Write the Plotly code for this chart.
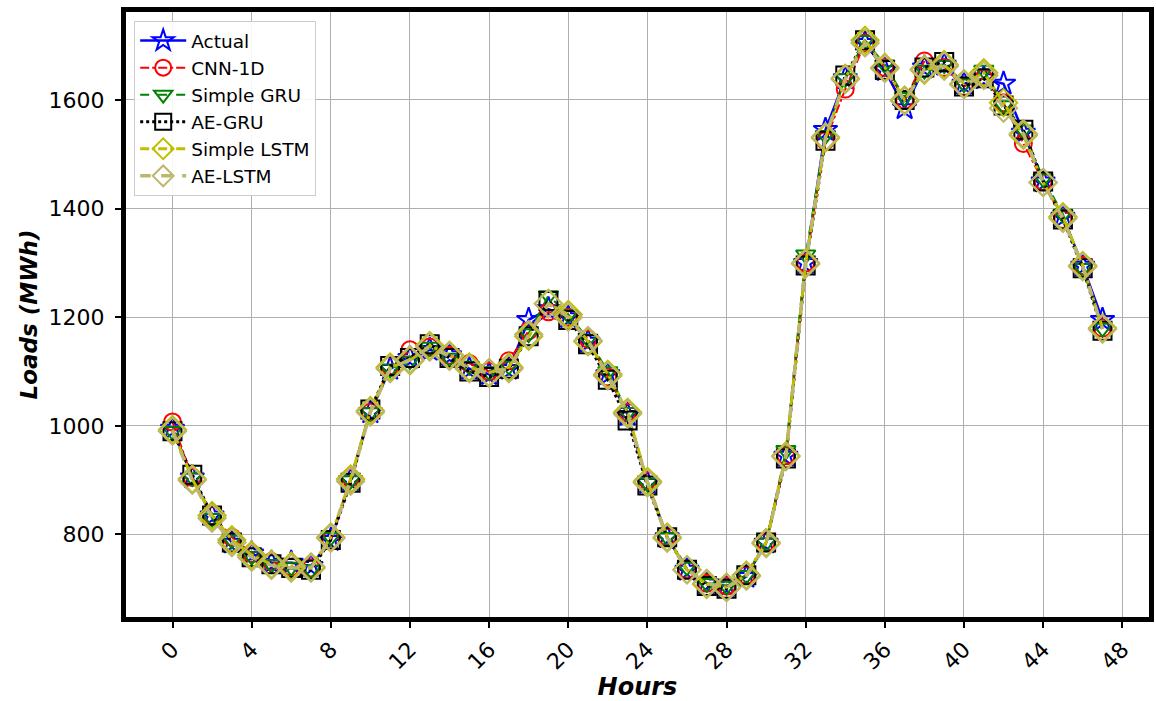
import plotly.graph_objects as go

hours = list(range(48))

actual = [995, 905, 835, 785, 765, 748, 748, 742, 790, 900, 1025, 1105, 1125, 1140, 1130, 1105,
          1095, 1105, 1195, 1215, 1200, 1155, 1095, 1020, 895, 795, 735, 710, 705, 722, 785, 945,
          1300, 1545, 1640, 1705, 1655, 1585, 1660, 1665, 1630, 1640, 1630, 1540, 1450, 1385, 1295, 1195]
cnn_1d = [1007, 905, 835, 795, 765, 750, 740, 738, 790, 905, 1025, 1110, 1140, 1145, 1130, 1115,
          1100, 1120, 1175, 1210, 1200, 1160, 1090, 1025, 900, 795, 735, 710, 705, 725, 785, 945,
          1300, 1525, 1620, 1705, 1660, 1600, 1672, 1660, 1625, 1640, 1595, 1520, 1450, 1380, 1295, 1180]
simple_gru = [990, 905, 830, 790, 760, 745, 740, 735, 795, 900, 1025, 1105, 1120, 1145, 1125, 1110,
              1100, 1110, 1170, 1240, 1205, 1160, 1100, 1025, 895, 795, 740, 710, 705, 725, 785, 955,
              1315, 1535, 1640, 1710, 1665, 1605, 1655, 1665, 1630, 1655, 1590, 1545, 1455, 1390, 1290, 1180]
ae_gru = [990, 910, 835, 785, 758, 745, 738, 735, 790, 895, 1030, 1110, 1125, 1150, 1125, 1100,
          1090, 1105, 1165, 1230, 1195, 1150, 1085, 1010, 890, 795, 735, 705, 700, 725, 785, 940,
          1295, 1525, 1645, 1710, 1655, 1600, 1660, 1670, 1625, 1640, 1590, 1545, 1450, 1380, 1290, 1175]
simple_lstm = [993, 902, 835, 790, 762, 745, 742, 740, 795, 902, 1028, 1108, 1120, 1148, 1130, 1108,
               1098, 1108, 1165, 1225, 1205, 1155, 1095, 1025, 898, 795, 735, 708, 703, 725, 785, 945,
               1300, 1530, 1640, 1710, 1660, 1600, 1655, 1665, 1630, 1650, 1595, 1535, 1448, 1385, 1295, 1180]
ae_lstm = [990, 900, 830, 785, 758, 743, 738, 738, 793, 898, 1025, 1105, 1122, 1145, 1128, 1105,
           1097, 1105, 1168, 1225, 1200, 1157, 1092, 1022, 895, 793, 735, 710, 702, 723, 783, 943,
           1298, 1532, 1638, 1705, 1658, 1598, 1657, 1662, 1628, 1645, 1585, 1538, 1448, 1382, 1293, 1178]

x_ticks = list(range(0, 49, 4))
y_ticks = [800, 1000, 1200, 1400, 1600]

series = [
    ("Actual", actual, "#0000ff", "solid", 2.5, "star-open", 18),
    ("CNN-1D", cnn_1d, "#ff0000", "dashdot", 2, "circle-open", 17),
    ("Simple GRU", simple_gru, "#008000", "dash", 2, "triangle-down-open", 17),
    ("AE-GRU", ae_gru, "#000000", "dot", 3, "square-open", 18),
    ("Simple LSTM", simple_lstm, "#bfbf00", "dashdot", 3, "diamond-open", 21),
    ("AE-LSTM", ae_lstm, "#bdb76b", "dash", 3.5, "diamond-open", 21),
]

fig = go.Figure()
for name, vals, color, dash, lw, sym, ms in series:
    fig.add_trace(go.Scatter(
        x=hours, y=vals, name=name, mode="lines+markers",
        line=dict(color=color, dash=dash, width=lw),
        marker=dict(symbol=sym, size=ms, color=color, line=dict(color=color, width=2)),
    ))

font_family = "DejaVu Sans"
fig.update_layout(
    width=1156, height=701,
    margin=dict(l=126, r=2, t=12, b=84),
    paper_bgcolor="white", plot_bgcolor="white",
    font=dict(family=font_family, color="black"),
    showlegend=True,
    legend=dict(x=0.008, y=0.985, xanchor="left", yanchor="top",
                bgcolor="rgba(255,255,255,0.9)", bordercolor="#cccccc", borderwidth=1,
                font=dict(size=18.5, family=font_family), tracegroupgap=0, itemwidth=46),
)
fig.update_xaxes(
    range=[-2.35, 49.35], tickvals=x_ticks, ticktext=[str(v) for v in x_ticks],
    tickangle=-45, tickfont=dict(size=22, family=font_family),
    showgrid=True, gridcolor="#b0b0b0", gridwidth=1, zeroline=False,
    showline=True, linecolor="black", linewidth=5, mirror=True,
    ticks="outside", ticklen=6, tickwidth=1.5, tickcolor="black",
    title=dict(text="Hours", font=dict(size=24, family=font_family, weight="bold", style="italic"), standoff=8),
)
fig.update_yaxes(
    range=[648, 1762], tickvals=y_ticks, ticktext=[str(v) for v in y_ticks],
    tickfont=dict(size=22, family=font_family),
    showgrid=True, gridcolor="#b0b0b0", gridwidth=1, zeroline=False,
    showline=True, linecolor="black", linewidth=5, mirror=True,
    ticks="outside", ticklen=6, tickwidth=1.5, tickcolor="black",
    ticklabelstandoff=6,
    title=dict(text="Loads (MWh)", font=dict(size=23, family=font_family, weight="bold", style="italic"), standoff=6),
)

fig.write_html("out.html")
